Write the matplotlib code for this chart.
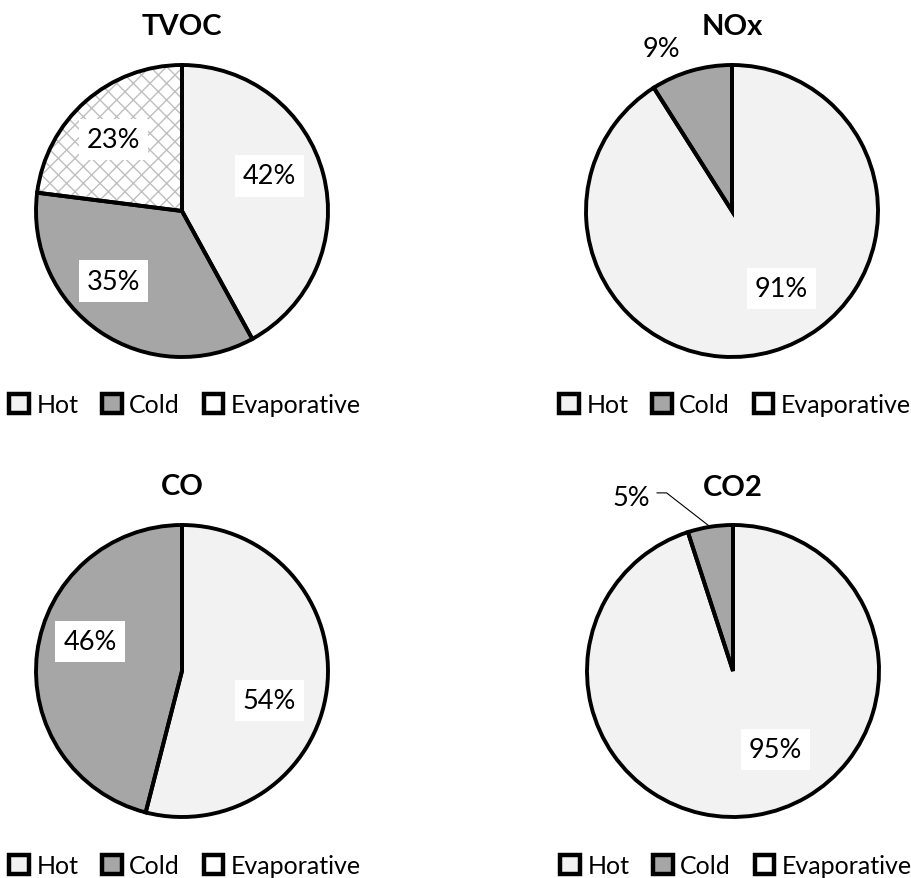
import numpy as np
import matplotlib.pyplot as plt
from matplotlib.patches import Patch

plt.rcParams['font.family'] = ['Lato', 'DejaVu Sans']
plt.rcParams['hatch.color'] = '#BFBFBF'
plt.rcParams['hatch.linewidth'] = 1.0

# emission shares per pollutant (%)
categories = ['Hot', 'Cold', 'Evaporative']
pollutants = ['TVOC', 'NOx', 'CO', 'CO2']
tvoc = [42, 35, 23]
nox = [91, 9, 0]
co = [54, 46, 0]
co2 = [95, 5, 0]
shares = [tvoc, nox, co, co2]

colors = ['#F2F2F2', '#A6A6A6', 'white']
hatches = [None, None, 'xx']

W, H = 912, 879
fig = plt.figure(figsize=(W / 100, H / 100), dpi=100)

# pie centre (px), radius (px), label spots in radius units, legend centre (px)
centres = [(182, 212), (732, 212), (182, 672), (733, 672)]
R = 146
label_pos = [
    [(0.60, 0.24), (-0.47, -0.48), (-0.47, 0.49)],
    [(0.34, -0.53), (-0.48, 1.11), None],
    [(0.60, -0.20), (-0.63, 0.20), None],
    [(0.29, -0.54), (-0.70, 1.19), None],
]
boxed = [[True, True, True], [True, False, False], [True, True, False], [True, False, False]]
title_y = [27, 27, 487, 488]
legend_c = [(185, 406), (735, 406), (185, 867), (736, 867)]

for k, vals in enumerate(shares):
    cx, cy = centres[k]
    ax = fig.add_axes([(cx - R) / W, 1 - (cy + R) / H, 2 * R / W, 2 * R / H])
    idx = [i for i, v in enumerate(vals) if v > 0]
    v = [vals[i] for i in idx]
    # fills (with hatching), then black outlines on top
    wedges, _ = ax.pie(v, colors=[colors[i] for i in idx], startangle=90, counterclock=False,
                       radius=1, wedgeprops=dict(linewidth=0, clip_on=False))
    for w, i in zip(wedges, idx):
        if hatches[i]:
            w.set_hatch(hatches[i])
            w.set_edgecolor('#BFBFBF')
    ax.pie(v, colors=['none'] * len(v), startangle=90, counterclock=False, radius=1,
           wedgeprops=dict(linewidth=2.8, edgecolor='black', clip_on=False))
    ax.set_aspect('auto')
    ax.set_xlim(-1, 1)
    ax.set_ylim(-1, 1)
    ax.axis('off')

    for i in idx:
        x, y = label_pos[k][i]
        kw = {}
        if boxed[k][i]:
            kw['bbox'] = dict(boxstyle='square,pad=0.3', facecolor='white', edgecolor='none')
        ax.text(x, y, f"{vals[i]}%", ha='center', va='center', fontsize=19.5, clip_on=False, **kw)

    # leader line for the thin CO2 cold slice
    if pollutants[k] == 'CO2':
        mid = np.deg2rad(90 + 0.5 * vals[1] / 100 * 360)
        ax.plot([-0.52, -0.455, np.cos(mid)], [1.22, 1.22, np.sin(mid)], color='black',
                lw=0.8, clip_on=False)

    fig.text(cx / W, 1 - title_y[k] / H, pollutants[k], ha='center', va='center',
             fontsize=21, fontweight='bold')

    handles = [Patch(facecolor=colors[i], edgecolor='black', linewidth=3.2) for i in range(3)]
    lx, ly = legend_c[k]
    fig.legend(handles, categories, loc='center', bbox_to_anchor=(lx / W, 1 - ly / H), ncol=3,
               frameon=False, fontsize=18, handlelength=0.78, handleheight=0.78,
               handletextpad=0.3, columnspacing=0.95, borderpad=0, borderaxespad=0)

fig.savefig('out.png', dpi=100)
